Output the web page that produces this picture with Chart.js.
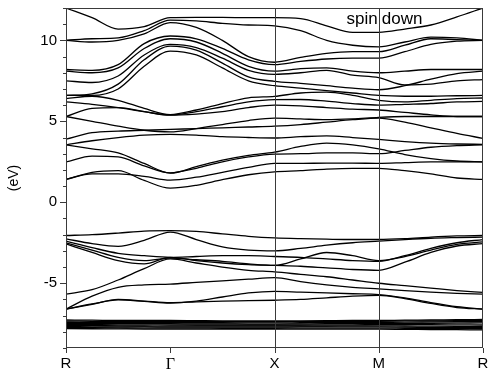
<!DOCTYPE html>
<html>
<head>
<meta charset="utf-8">
<title>Band structure - spin down</title>
<script src="https://cdn.jsdelivr.net/npm/chart.js@4.4.1/dist/chart.umd.min.js"></script>
<style>
  html, body { margin: 0; padding: 0; background: #fff; }
  canvas { display: block; }
</style>
</head>
<body>
<canvas id="bands" width="488" height="376"></canvas>
<script>
// ----- DATA -----
// k-path positions: R - Γ - X - M - R
const kPath = [0, 0.25, 0.5, 0.75, 1, 1.25, 1.5, 1.75, 2, 2.25, 2.5, 2.75, 3, 3.25, 3.5, 3.75, 4];
const kTickValues = [0, 1, 2, 3, 4];
const kTickLabels = ['R', 'Γ', 'X', 'M', 'R'];
const yLabelValues = [-5, 0, 5, 10];

// upper conduction bands (eV)
const upperBands = [
  [12.0, 11.4, 10.7, 10.85, 11.4, 11.42, 11.42, 11.4, 11.4, 11.35, 10.9, 10.5, 10.5, 10.7, 10.95, 11.45, 12.0],
  [10.0, 10.1, 10.15, 10.6, 11.25, 11.2, 11.05, 10.95, 10.9, 10.6, 10.0, 9.7, 9.6, 9.9, 10.2, 10.15, 10.0],
  [10.0, 9.9, 10.0, 10.4, 11.1, 10.8, 10.0, 9.0, 8.65, 8.95, 9.2, 9.3, 9.3, 9.7, 10.1, 10.05, 10.0],
  [8.2, 8.15, 8.5, 9.8, 10.27, 10.1, 9.5, 8.8, 8.5, 8.7, 8.85, 8.9, 8.9, 9.3, 9.75, 9.95, 10.0],
  [8.1, 8.0, 8.3, 9.5, 10.1, 9.9, 9.2, 8.4, 8.1, 8.25, 8.3, 8.1, 8.0, 8.1, 8.2, 8.2, 8.2],
  [7.5, 7.4, 7.8, 9.1, 9.75, 9.55, 8.9, 8.15, 7.9, 8.0, 8.15, 7.85, 7.7, 7.25, 7.3, 7.5, 7.58],
  [6.6, 6.7, 7.3, 8.8, 9.65, 9.4, 8.6, 7.75, 7.47, 7.35, 7.2, 7.05, 6.95, 7.2, 7.6, 7.95, 8.1],
  [6.6, 6.6, 7.0, 8.4, 9.34, 9.1, 8.3, 7.5, 7.2, 7.05, 6.9, 6.75, 6.6, 6.55, 6.55, 6.58, 6.6]
];

// lower conduction bands (eV)
const middleBands = [
  [6.4, 6.55, 6.3, 5.8, 5.42, 5.7, 6.1, 6.45, 6.54, 6.75, 6.8, 6.6, 6.3, 6.2, 6.3, 6.4, 6.44],
  [6.2, 6.05, 5.85, 5.6, 5.4, 5.6, 5.9, 6.2, 6.34, 6.35, 6.25, 6.1, 6.0, 6.05, 6.1, 6.2, 6.23],
  [5.3, 5.8, 5.85, 5.6, 5.38, 5.45, 5.6, 5.85, 6.0, 5.95, 5.85, 5.75, 5.7, 5.55, 5.4, 5.3, 5.3],
  [5.3, 5.0, 4.7, 4.45, 4.35, 4.55, 4.8, 5.05, 5.2, 5.15, 5.1, 5.15, 5.25, 5.3, 5.3, 5.3, 5.3],
  [3.9, 4.3, 4.4, 4.45, 4.5, 4.55, 4.6, 4.65, 4.7, 4.8, 4.95, 5.1, 5.2, 4.95, 4.6, 4.25, 3.95],
  [3.55, 3.8, 4.0, 4.15, 4.2, 4.15, 4.05, 4.0, 3.97, 4.05, 4.1, 4.0, 3.88, 3.75, 3.65, 3.6, 3.58],
  [3.55, 3.3, 3.05, 2.4, 1.8, 2.2, 2.6, 2.9, 3.1, 3.45, 3.65, 3.55, 3.3, 2.95, 2.7, 2.55, 2.5],
  [2.5, 2.85, 2.8, 2.25, 1.82, 2.1, 2.5, 2.8, 2.98, 3.0, 3.05, 3.05, 3.0, 3.2, 3.4, 3.5, 3.55],
  [1.41, 1.75, 1.75, 1.6, 1.37, 1.55, 1.85, 2.15, 2.4, 2.4, 2.42, 2.42, 2.4, 2.45, 2.5, 2.5, 2.5],
  [1.41, 1.85, 1.95, 1.35, 0.87, 1.05, 1.4, 1.7, 1.88, 1.95, 2.05, 2.1, 2.1, 1.95, 1.75, 1.5, 1.41]
];

// valence bands (eV)
const valenceBands = [
  [-2.05, -2.0, -1.9, -1.78, -1.75, -1.8, -1.95, -2.1, -2.2, -2.25, -2.28, -2.3, -2.3, -2.25, -2.15, -2.08, -2.05],
  [-2.26, -2.55, -2.72, -2.35, -1.84, -2.3, -2.75, -2.95, -3.0, -2.85, -2.65, -2.5, -2.4, -2.3, -2.22, -2.18, -2.15],
  [-2.4, -2.8, -3.15, -3.3, -3.4, -3.35, -3.3, -3.3, -3.35, -3.4, -3.5, -3.6, -3.65, -3.3, -2.85, -2.5, -2.3],
  [-2.5, -2.95, -3.4, -3.6, -3.45, -3.55, -3.65, -3.8, -3.9, -3.5, -3.1, -3.3, -3.6, -3.35, -2.95, -2.6, -2.45],
  [-2.57, -3.1, -3.6, -3.8, -3.4, -3.6, -3.75, -3.85, -3.9, -3.95, -4.05, -4.15, -4.2, -3.7, -3.1, -2.7, -2.55],
  [-5.67, -5.4, -4.8, -4.1, -3.5, -3.75, -4.0, -4.2, -4.3, -4.45, -4.6, -4.8, -5.0, -5.15, -5.3, -5.45, -5.57],
  [-6.6, -5.8, -5.25, -5.1, -5.05, -4.95, -4.85, -4.75, -4.65, -4.9, -5.1, -5.25, -5.35, -5.45, -5.55, -5.62, -5.67],
  [-6.6, -6.3, -6.0, -6.1, -6.2, -6.15, -6.1, -6.08, -6.05, -6.0, -5.9, -5.8, -5.75, -5.95, -6.25, -6.5, -6.6],
  [-6.6, -6.28, -6.03, -6.12, -6.22, -6.1, -5.85, -5.6, -5.5, -5.55, -5.6, -5.65, -5.7, -5.9, -6.2, -6.45, -6.6]
];

// flat semicore bands around -7.5 eV
const coreBands = [
  [-7.27, -7.28, -7.3, -7.3, -7.3, -7.31, -7.32, -7.32, -7.33, -7.32, -7.31, -7.3, -7.3, -7.28, -7.27, -7.25, -7.24],
  [-7.34, -7.35, -7.36, -7.36, -7.37, -7.37, -7.38, -7.38, -7.38, -7.37, -7.36, -7.36, -7.35, -7.33, -7.32, -7.31, -7.3],
  [-7.41, -7.42, -7.43, -7.43, -7.44, -7.44, -7.44, -7.45, -7.45, -7.44, -7.43, -7.43, -7.42, -7.4, -7.39, -7.38, -7.37],
  [-7.48, -7.49, -7.5, -7.5, -7.5, -7.51, -7.51, -7.52, -7.52, -7.51, -7.5, -7.5, -7.49, -7.48, -7.47, -7.46, -7.45],
  [-7.55, -7.56, -7.57, -7.57, -7.58, -7.58, -7.58, -7.58, -7.58, -7.58, -7.57, -7.57, -7.56, -7.56, -7.56, -7.57, -7.58],
  [-7.61, -7.62, -7.63, -7.64, -7.65, -7.64, -7.64, -7.64, -7.64, -7.64, -7.64, -7.63, -7.63, -7.64, -7.65, -7.66, -7.67],
  [-7.68, -7.69, -7.7, -7.7, -7.71, -7.71, -7.71, -7.71, -7.71, -7.7, -7.7, -7.7, -7.7, -7.71, -7.73, -7.74, -7.75],
  [-7.74, -7.75, -7.76, -7.77, -7.77, -7.77, -7.78, -7.78, -7.78, -7.77, -7.77, -7.77, -7.77, -7.78, -7.79, -7.8, -7.81],
  [-7.8, -7.81, -7.82, -7.83, -7.83, -7.84, -7.84, -7.84, -7.84, -7.84, -7.84, -7.84, -7.84, -7.85, -7.86, -7.87, -7.88]
];

// ----- CHART -----
const FONT = '"Liberation Sans", Arial, sans-serif';

function bandDataset(values) {
  return {
    data: values.map((e, i) => ({ x: kPath[i], y: e })),
    borderColor: '#000',
    borderWidth: 1.3,
    pointRadius: 0,
    fill: false,
    cubicInterpolationMode: 'monotone'
  };
}

const allBands = [...upperBands, ...middleBands, ...valenceBands, ...coreBands];

// frame, symmetry lines, tick marks and the "spin down" note
const framePlugin = {
  id: 'bandFrame',
  afterDatasetsDraw(chart) {
    const { ctx, chartArea: a, scales: { x, y } } = chart;
    ctx.save();
    ctx.strokeStyle = '#3a3a3a';
    ctx.lineWidth = 1;
    ctx.beginPath();
    // vertical lines at X and M
    [2, 3].forEach(v => {
      const px = Math.round(x.getPixelForValue(v)) + 0.5;
      ctx.moveTo(px, a.top);
      ctx.lineTo(px, a.bottom);
    });
    // y tick marks, longer at labelled values
    y.ticks.forEach(t => {
      const py = Math.round(y.getPixelForValue(t.value)) + 0.5;
      const len = yLabelValues.includes(t.value) ? 6 : 3;
      ctx.moveTo(a.left - len, py);
      ctx.lineTo(a.left, py);
    });
    // x tick marks below the axis
    kTickValues.forEach(v => {
      const px = Math.round(x.getPixelForValue(v)) + 0.5;
      ctx.moveTo(px, a.bottom);
      ctx.lineTo(px, a.bottom + 5);
    });
    ctx.stroke();
    ctx.strokeRect(Math.round(a.left) + 0.5, Math.round(a.top) + 0.5,
                   Math.round(a.width) - 1, Math.round(a.height) - 1);

    // label sits across the M line: "spin" left of it, "down" right of it
    ctx.fillStyle = '#000';
    ctx.font = '17px ' + FONT;
    ctx.textAlign = 'right';
    ctx.textBaseline = 'alphabetic';
    const mx = x.getPixelForValue(3);
    ctx.fillText('spin', mx - 1, a.top + 16);
    ctx.textAlign = 'left';
    ctx.fillText('down', mx + 3, a.top + 16);
    ctx.restore();
  }
};

new Chart(document.getElementById('bands'), {
  type: 'line',
  data: { datasets: allBands.map(bandDataset) },
  options: {
    responsive: false,
    animation: false,
    devicePixelRatio: 1,
    layout: { padding: { top: 8, right: 5, left: 2, bottom: 0 } },
    plugins: {
      legend: { display: false },
      tooltip: { enabled: false }
    },
    scales: {
      x: {
        type: 'linear',
        min: 0,
        max: 4,
        afterBuildTicks: scale => {
          scale.ticks = kTickValues.map(v => ({ value: v }));
        },
        afterFit: scale => {
          scale.height = 28;
          scale.paddingLeft = 0;
          scale.paddingRight = 0;
        },
        grid: { display: false, drawTicks: false },
        border: { display: false },
        ticks: {
          padding: 7,
          color: '#000',
          // Γ in a serif face, the other points in sans
          font: (c) => (c.tick && c.tick.value === 1)
            ? { family: '"Liberation Serif", "DejaVu Serif", serif', size: 16 }
            : { family: FONT, size: 15 },
          maxRotation: 0,
          autoSkip: false,
          callback: (v) => kTickLabels[kTickValues.indexOf(v)]
        }
      },
      y: {
        type: 'linear',
        min: -9,
        max: 12,
        afterFit: scale => {
          scale.width = 64;
          scale.paddingTop = 0;
          scale.paddingBottom = 0;
        },
        grid: { display: false, drawTicks: false },
        border: { display: false },
        title: {
          display: true,
          text: '(eV)',
          color: '#000',
          font: { family: FONT, size: 14 },
          padding: { top: 4, bottom: 0 }
        },
        ticks: {
          stepSize: 1,
          padding: 9,
          color: '#000',
          font: { family: FONT, size: 15 },
          autoSkip: false,
          callback: (v) => yLabelValues.includes(v) ? String(v) : ''
        }
      }
    }
  },
  plugins: [framePlugin]
});
</script>
</body>
</html>
